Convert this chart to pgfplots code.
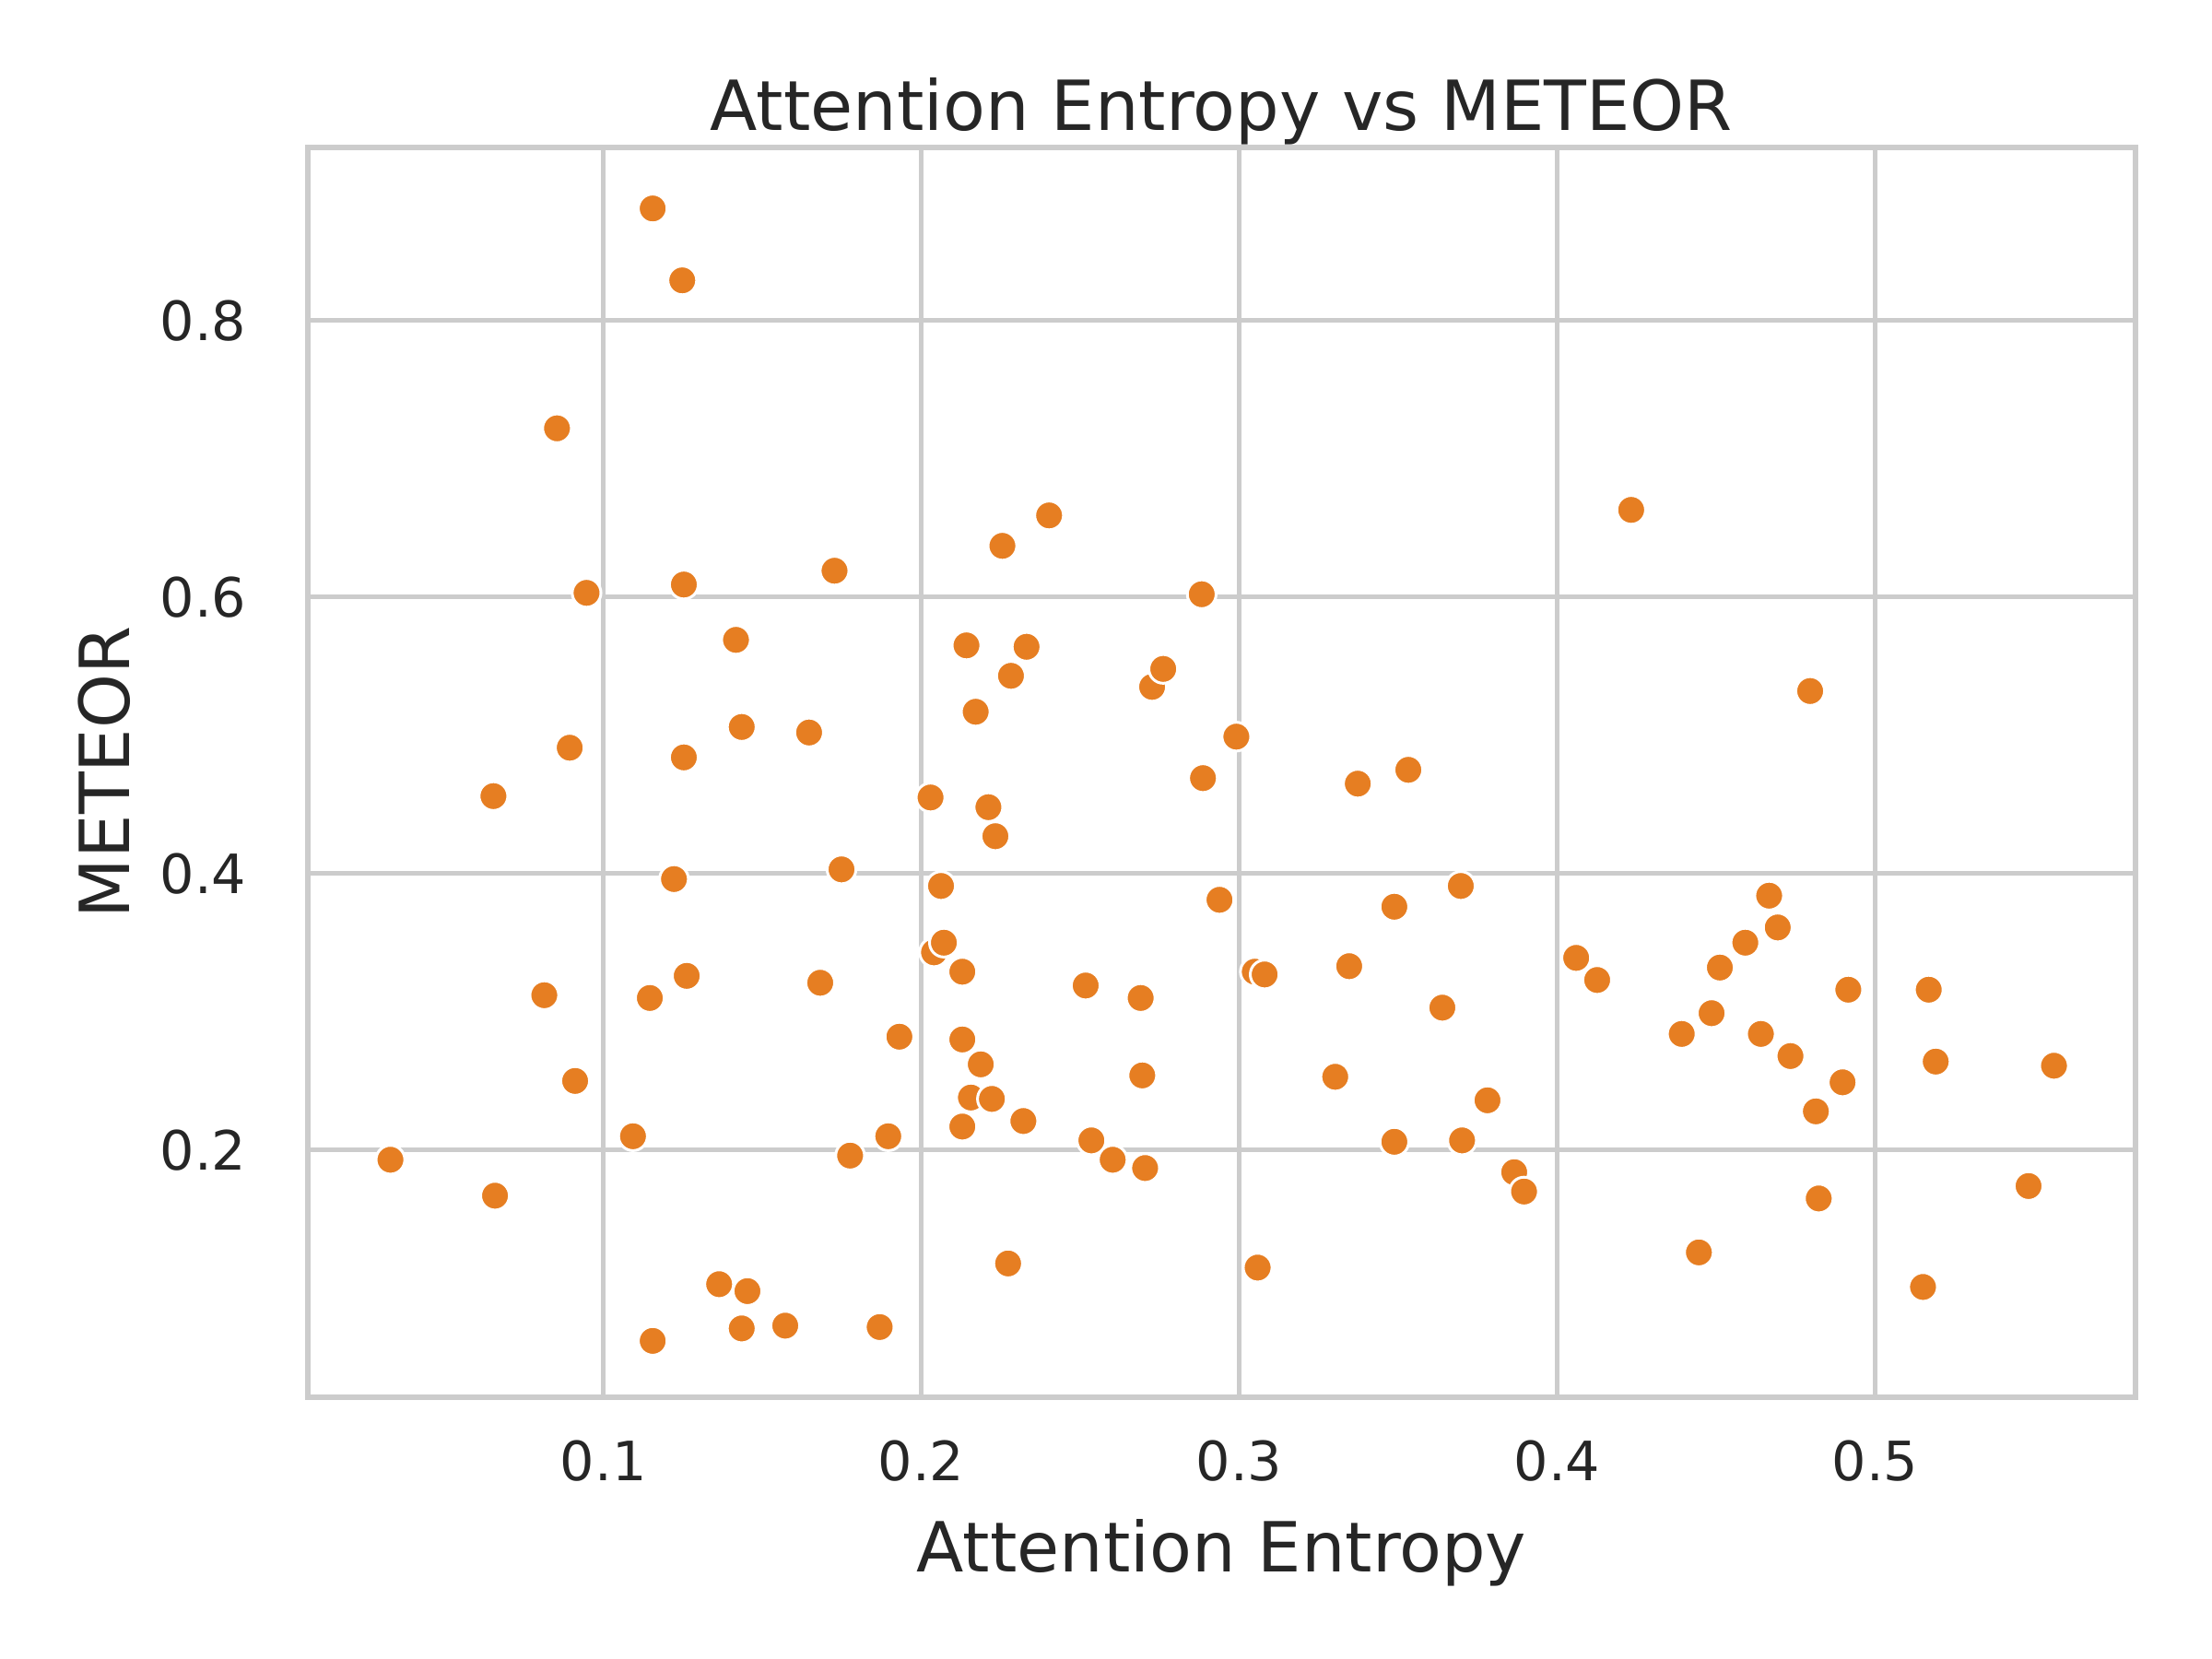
\documentclass[border=0pt]{standalone}
\usepackage{pgfplots}
\pgfplotsset{compat=1.18}
\usepackage{fontspec}
\setmainfont{DejaVu Sans}
\definecolor{dotc}{HTML}{E67E22}
\definecolor{gridc}{HTML}{CCCCCC}
\definecolor{txt}{HTML}{262626}
\begin{document}
\begin{tikzpicture}
\useasboundingbox (-55.6pt,-47.4pt) rectangle (344.4pt,252.6pt);
\begin{axis}[
  at={(0,0)}, anchor=south west,
  scale only axis, width=330.6pt, height=225.9pt,
  xmin=0.0069, xmax=0.582, ymin=0.0215, ymax=0.925,
  xtick={0.1,0.2,0.3,0.4,0.5}, ytick={0.2,0.4,0.6,0.8},
  /pgf/number format/assume math mode=true,
  /pgf/number format/fixed,
  tick style={draw=none},
  grid=major, major grid style={gridc, line width=0.8pt},
  axis line style={gridc, line width=1pt},
  ticklabel style={font=\fontsize{9.8}{11}\selectfont, text=txt},
  yticklabel style={xshift=-7.5pt},
  xticklabel style={yshift=-4.4pt},
  label style={font=\fontsize{12.5}{14}\selectfont, text=txt},
  title style={font=\fontsize{12.5}{14}\selectfont, text=txt, yshift=-9pt},
  title={Attention Entropy vs METEOR},
  xlabel={Attention Entropy}, ylabel={METEOR},
  xlabel style={yshift=0pt}, ylabel style={yshift=-1.5pt},
]
\addplot[only marks, mark=*, mark size=2.6pt, mark options={fill=dotc, draw=white, line width=0.5pt}] coordinates {
(.1155,.881)(.1248,.829)(.0854,.722)(.0947,.603)(.1253,.609)(.1417,.569)(.1435,.506)(.1647,.502)(.1727,.619)(.0894,.491)
(.1253,.484)(.0654,.456)(.1749,.403)(.1222,.396)(.0814,.312)(.1146,.310)(.1262,.326)(.1682,.321)(.0911,.250)(.1093,.210)
(.0330,.193)(.0659,.167)(.1776,.196)(.1896,.210)(.1931,.282)(.1364,.103)(.1453,.098)(.1435,.071)(.1572,.073)(.1869,.072)
(.1155,.062)(.2402,.659)(.2255,.637)(.2142,.565)(.2331,.564)(.2282,.543)(.2171,.517)(.2029,.455)(.2211,.448)(.2233,.427)
(.2062,.391)(.2040,.343)(.2071,.350)(.2129,.329)(.2129,.280)(.2187,.262)(.2156,.238)(.2222,.237)(.2129,.217)(.2321,.221)
(.2273,.118)(.2517,.319)(.2535,.207)(.2602,.193)(.2690,.310)(.2695,.254)(.2704,.187)(.2726,.535)(.2761,.548)(.2882,.602)
(.2886,.469)(.2991,.499)(.2938,.381)(.3049,.329)(.3080,.327)(.3058,.115)(.3302,.253)(.3346,.333)(.3373,.465)(.3532,.475)
(.3488,.376)(.3488,.206)(.3639,.303)(.3697,.391)(.3701,.207)(.3781,.236)(.3865,.184)(.3896,.170)(.4060,.339)(.4126,.323)
(.4233,.663)(.4392,.284)(.4446,.126)(.4486,.299)(.4512,.332)(.4592,.350)(.4641,.284)(.4667,.384)(.4694,.361)(.4734,.268)
(.4796,.532)(.4814,.228)(.4823,.165)(.4898,.249)(.4916,.316)(.5151,.101)(.5169,.316)(.5191,.264)(.5483,.174)(.5563,.261)
};
\end{axis}
\end{tikzpicture}
\end{document}
